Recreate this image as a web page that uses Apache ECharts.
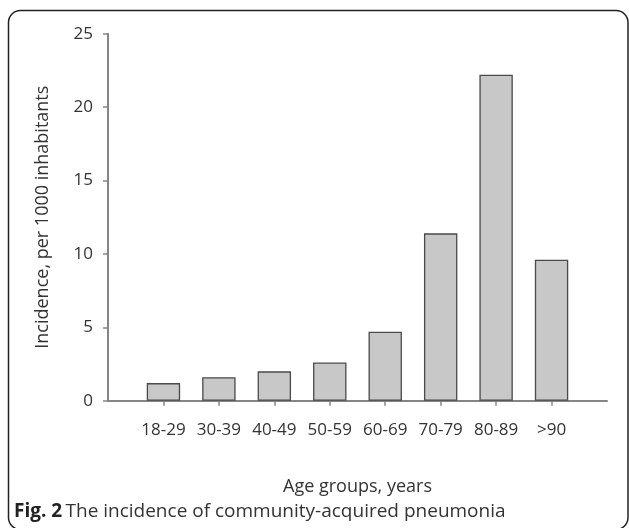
<!DOCTYPE html>
<html>
<head>
<meta charset="utf-8">
<script src="https://cdn.jsdelivr.net/npm/echarts@6/dist/echarts.min.js"></script>
<style>
  html, body { margin: 0; padding: 0; background: #fff; }
  #main { width: 629px; height: 528px; }
</style>
</head>
<body>
<div id="main"></div>
<script>
// age groups and incidence per 1000 inhabitants
var ageGroups = ['18-29', '30-39', '40-49', '50-59', '60-69', '70-79', '80-89', '>90'];
var incidence = [1.2, 1.6, 2.0, 2.6, 4.7, 11.4, 22.2, 9.6];
var yTicks = [0, 5, 10, 15, 20, 25];

var textColor = '#333';
var font = '"Open Sans", "DejaVu Sans", sans-serif';

// blank slot at each end so the bars sit one step in from the axis ends
var axisData = [''].concat(ageGroups, ['']);
var barData = ['-'].concat(incidence, ['-']);

var chart = echarts.init(document.getElementById('main'));
var option = {
  backgroundColor: '#fff',
  animation: false,
  grid: { left: 108, right: 22, top: 33.7, bottom: 127.3 },
  xAxis: {
    type: 'category',
    data: axisData,
    boundaryGap: false,
    name: 'Age groups, years',
    nameLocation: 'middle',
    nameGap: 77,
    nameTextStyle: { color: textColor, fontSize: 18, fontFamily: font },
    axisLine: { lineStyle: { color: '#858585', width: 2 } },
    axisTick: {
      length: 5,
      interval: function (i, v) { return v !== ''; },
      lineStyle: { color: '#858585', width: 1.5 }
    },
    axisLabel: {
      interval: 0,
      margin: 21,
      color: textColor,
      fontSize: 17,
      fontFamily: font
    },
    splitLine: { show: false }
  },
  yAxis: {
    type: 'value',
    min: yTicks[0],
    max: yTicks[yTicks.length - 1],
    interval: 5,
    name: 'Incidence, per 1000 inhabitants',
    nameLocation: 'middle',
    nameRotate: 90,
    nameGap: 56,
    nameTextStyle: { color: textColor, fontSize: 18, fontFamily: font },
    axisLine: { show: true, lineStyle: { color: '#858585', width: 2 } },
    axisTick: { show: true, length: 5, lineStyle: { color: '#858585', width: 1.5 } },
    axisLabel: { margin: 15, color: textColor, fontSize: 17, fontFamily: font },
    splitLine: { show: false }
  },
  series: [{
    type: 'bar',
    data: barData,
    barWidth: 33.4,
    itemStyle: { color: '#c8c8c8', borderColor: '#4a4a4a', borderWidth: 1.3 }
  }],
  graphic: [
    {
      type: 'rect',
      shape: { x: 8.5, y: 10.5, width: 619.5, height: 519, r: 12 },
      style: { fill: 'none', stroke: '#222', lineWidth: 1.5 },
      silent: true
    },
    {
      type: 'text',
      left: 14,
      top: 502,
      style: {
        rich: {
          b: { fontWeight: 'bold', fontSize: 19, fontFamily: font, fill: '#222' },
          n: { fontSize: 19, fontFamily: font, fill: '#333' }
        },
        text: '{b|Fig. 2} {n|The incidence of community-acquired pneumonia}'
      }
    }
  ]
};
chart.setOption(option);
</script>
</body>
</html>
